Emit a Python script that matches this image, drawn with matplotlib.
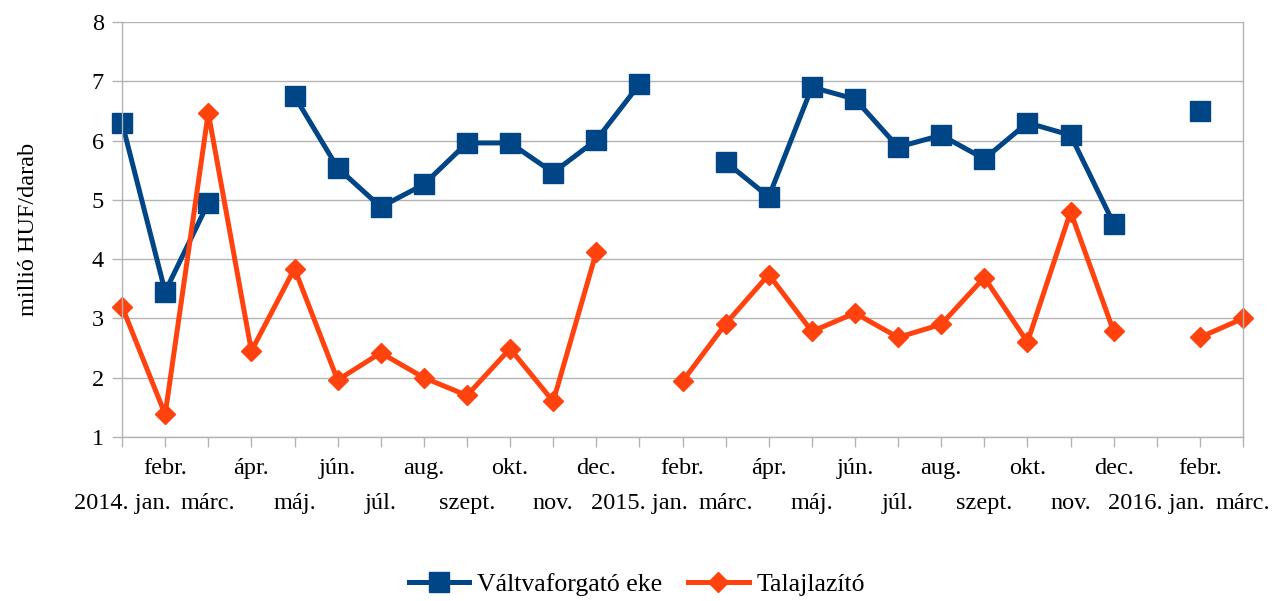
import numpy as np
import matplotlib
matplotlib.use("Agg")
import matplotlib.pyplot as plt

plt.rcParams['font.family'] = ['Liberation Serif', 'DejaVu Serif']

months = ["2014. jan.", "febr.", "márc.", "ápr.", "máj.", "jún.", "júl.", "aug.",
          "szept.", "okt.", "nov.", "dec.",
          "2015. jan.", "febr.", "márc.", "ápr.", "máj.", "jún.", "júl.", "aug.",
          "szept.", "okt.", "nov.", "dec.",
          "2016. jan.", "febr.", "márc."]

nan = np.nan
eke = [6.30, 3.45, 4.95, nan, 6.75, 5.54, 4.88, 5.26, 5.96, 5.96, 5.46, 6.01,
       6.95, nan, 5.64, 5.05, 6.90, 6.70, 5.89, 6.09, 5.69, 6.30, 6.09, 4.60,
       nan, 6.50, nan]
lazito = [3.20, 1.38, 6.47, 2.45, 3.84, 1.96, 2.42, 2.00, 1.70, 2.49, 1.60, 4.12,
          nan, 1.94, 2.91, 3.74, 2.78, 3.09, 2.68, 2.90, 3.69, 2.60, 4.80, 2.78,
          nan, 2.68, 3.00]

blue = "#004586"
orange = "#ff420e"
grid = "#b3b3b3"

fig = plt.figure(figsize=(12.74, 6.01), dpi=100)
ax = fig.add_axes([0.0958, 0.2729, 0.9757 - 0.0958, 0.9634 - 0.2729])

x = np.arange(len(months))
ax.plot(x, eke, color=blue, lw=3.6, marker="s", ms=14, label="Váltvaforgató eke",
        clip_on=False)
ax.plot(x, lazito, color=orange, lw=3.6, marker="D", ms=10.5, label="Talajlazító",
        clip_on=False)

ax.set_xlim(0, len(months) - 1)
ax.set_ylim(1, 8)
ax.set_yticks(range(1, 9))
ax.yaxis.grid(True, color=grid, lw=1)
ax.set_axisbelow(True)

ax.spines["top"].set_visible(False)
for s in ["left", "right", "bottom"]:
    ax.spines[s].set_color(grid)
    ax.spines[s].set_linewidth(1)

ax.set_xticks(x)
ax.set_xticklabels(months)
ax.tick_params(axis="both", colors=grid, length=7, width=1, labelcolor="black",
               labelsize=17.5)
ax.tick_params(axis="y", pad=6)
for i, t in enumerate(ax.xaxis.get_major_ticks()):
    t.set_pad(33 if i % 2 == 0 else 8)

ax.set_ylabel("millió HUF/darab", fontsize=17.5, labelpad=38)

fig.legend(loc="lower center", bbox_to_anchor=(0.5, -0.03), ncol=2, frameon=False,
           fontsize=18.5, handlelength=2.35, handletextpad=0.32, columnspacing=1.0)

fig.savefig("out.png", dpi=100)
